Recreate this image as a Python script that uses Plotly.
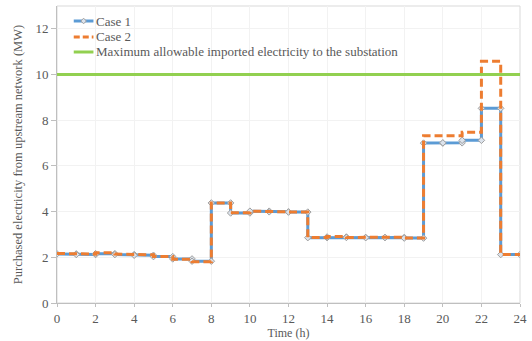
import plotly.graph_objects as go

# Hourly purchased electricity (MW), one value per hour 0..23
hours = list(range(24))
case1 = [2.15, 2.12, 2.16, 2.12, 2.09, 2.03, 1.93, 1.83,
         4.38, 3.94, 4.02, 3.99, 3.98, 2.86, 2.89, 2.87,
         2.86, 2.87, 2.84, 7.00, 7.01, 7.12, 8.52, 2.12]
case2 = [2.17, 2.14, 2.20, 2.14, 2.11, 2.03, 1.92, 1.81,
         4.38, 3.95, 4.02, 3.99, 3.98, 2.87, 2.91, 2.87,
         2.86, 2.88, 2.84, 7.32, 7.32, 7.47, 10.58, 2.12]
max_import = 10.0
x_ticks = list(range(0, 25, 2))
y_ticks = list(range(0, 13, 2))
series_names = ["Case 1", "Case 2",
                "Maximum allowable imported electricity to the substation"]


def steps(values):
    """Expand hourly values into a step profile with points at both ends of each hour."""
    xs, ys = [], []
    for h, v in zip(hours, values):
        xs += [h, h + 1]
        ys += [v, v]
    return xs, ys


x1, y1 = steps(case1)
x2, y2 = steps(case2)

W, H = 532, 341
ML, MR, MT, MB = 57, 5, 6, 38
PW, PH = W - ML - MR, H - MT - MB

font = "Times New Roman, Liberation Serif, serif"
grey = "#595959"
blue, orange, green = "#5B9BD5", "#ED7D31", "#92D050"
mk_fill, mk_line = "#DCE3EC", "#A0A0A0"


def px(xp):
    return (xp - ML) / PW


def py(yp):
    return (H - MB - yp) / PH


fig = go.Figure()
fig.add_trace(go.Scatter(
    x=x1, y=y1, name=series_names[0], mode="lines+markers",
    line=dict(color=blue, width=3),
    marker=dict(symbol="diamond", size=5, color=mk_fill,
                line=dict(color=mk_line, width=1)),
))
fig.add_trace(go.Scatter(
    x=x2, y=y2, name=series_names[1], mode="lines",
    line=dict(color=orange, width=3, dash="8px,4px"),
))
fig.add_trace(go.Scatter(
    x=[0, 24], y=[max_import, max_import], name=series_names[2],
    mode="lines", line=dict(color=green, width=3),
))

# Compact legend drawn inside the plot area
shapes = [dict(type="rect", xref="paper", yref="paper", x0=0, x1=1, y0=0, y1=1,
               line=dict(color="#D9D9D9", width=1), layer="below")]
annotations = []
legend_styles = [dict(color=blue, width=3),
                 dict(color=orange, width=3, dash="6px,3px"),
                 dict(color=green, width=3)]
row_y = [21, 37, 52]
for name, style, yp in zip(series_names, legend_styles, row_y):
    shapes.append(dict(type="line", xref="paper", yref="paper",
                       x0=px(74), x1=px(94), y0=py(yp), y1=py(yp), line=style))
    annotations.append(dict(text=name, xref="paper", yref="paper",
                            x=px(94.5), y=py(yp), xanchor="left", yanchor="middle",
                            showarrow=False, font=dict(family=font, size=13, color=grey)))
# diamond marker on the Case 1 legend sample
cx, cy, r = 84, row_y[0], 2.8
shapes.append(dict(type="path", xref="paper", yref="paper",
                   path=(f"M {px(cx - r)},{py(cy)} L {px(cx)},{py(cy - r)} "
                         f"L {px(cx + r)},{py(cy)} L {px(cx)},{py(cy + r)} Z"),
                   fillcolor=mk_fill, line=dict(color=mk_line, width=1)))

fig.update_layout(
    width=W, height=H,
    margin=dict(l=ML, r=MR, t=MT, b=MB),
    paper_bgcolor="white", plot_bgcolor="white",
    font=dict(family=font, color=grey, size=13),
    showlegend=False,
    xaxis=dict(range=[0, 24], tickvals=x_ticks, ticktext=[str(t) for t in x_ticks],
               showgrid=True, gridcolor="#F2F2F2", gridwidth=1,
               showline=True, linecolor="#BFBFBF", linewidth=1,
               ticks="outside", ticklen=3, tickcolor="#BFBFBF",
               tickfont=dict(family=font, size=13, color=grey), zeroline=False,
               ticklabeloverflow="allow",
               title=dict(text="Time (h)", font=dict(family=font, size=12, color=grey),
                          standoff=1)),
    yaxis=dict(range=[0, 13], tickvals=y_ticks, ticktext=[str(t) for t in y_ticks],
               showgrid=True, gridcolor="#F2F2F2", gridwidth=1,
               showline=True, linecolor="#BFBFBF", linewidth=1,
               ticks="outside", ticklen=5, tickcolor="#BFBFBF",
               tickfont=dict(family=font, size=13, color=grey), zeroline=False,
               title=dict(text="Purchased electricity from upstream network (MW)",
                          font=dict(family=font, size=12.5, color=grey), standoff=10)),
    shapes=shapes,
    annotations=annotations,
)

fig.write_html("out.html")
